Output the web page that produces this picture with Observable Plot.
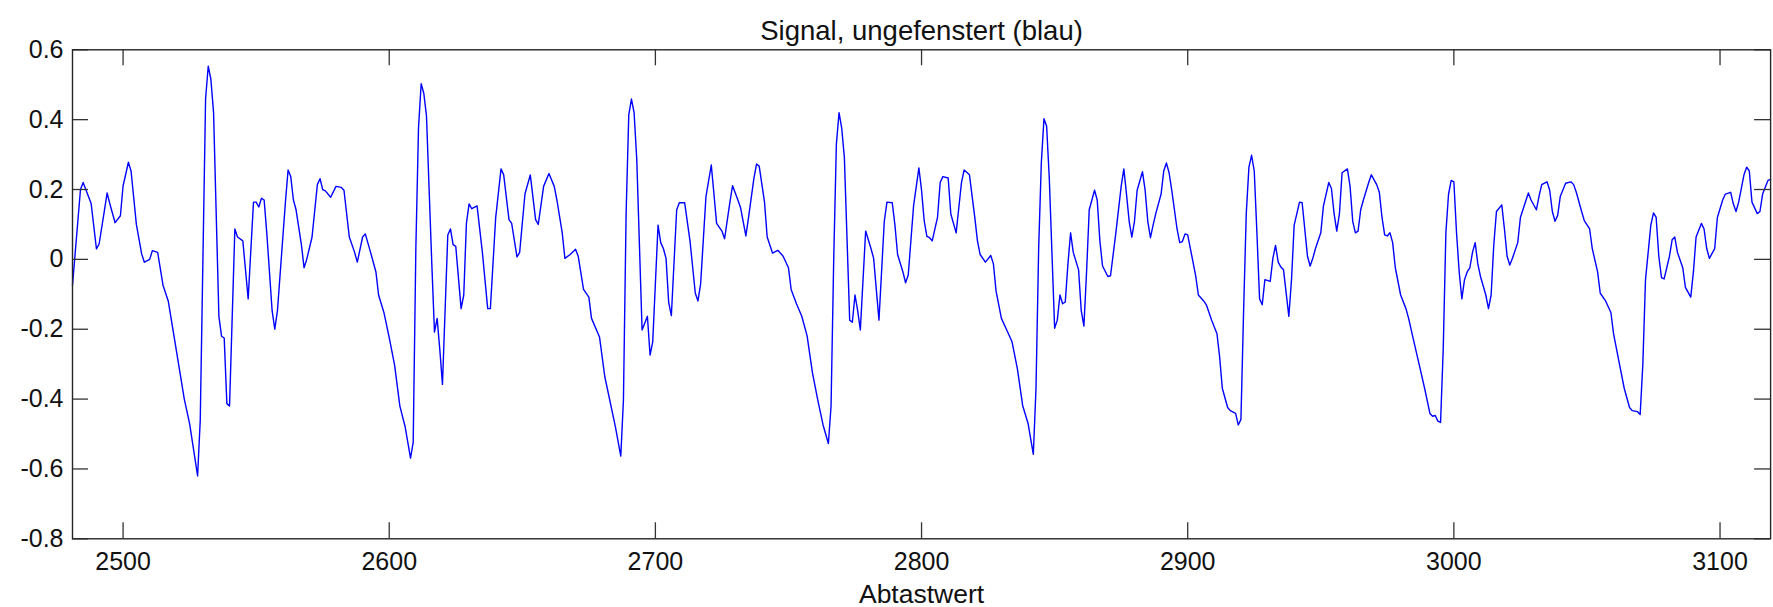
<!DOCTYPE html>
<html>
<head>
<meta charset="utf-8">
<script src="https://cdn.jsdelivr.net/npm/d3@7"></script>
<script src="https://cdn.jsdelivr.net/npm/@observablehq/plot@0.6"></script>
<style>
  html, body { margin: 0; padding: 0; background: #fff; overflow: hidden; }
</style>
</head>
<body>
<div id="chart"></div>
<script>
const titleText = "Signal, ungefenstert (blau)";
const xLabel = "Abtastwert";
const xTicks = [2500, 2600, 2700, 2800, 2900, 3000, 3100];
const yTicks = [-0.8, -0.6, -0.4, -0.2, 0, 0.2, 0.4, 0.6];

const sampleIndex = [
2481,2484,2485,2488,2490,2491,2493,2494,2495,2497,2499,2500,2502,2503,2505,2507,2508,2510,2511,2513,
2515,2517,2520,2523,2525,2528,2529,2531,2532,2533,2534,2536,2537,2538,2539,2540,2542,2543,2545,2547,
2549,2550,2551,2552,2553,2554,2556,2557,2558,2561,2562,2563,2564,2565,2567,2568,2569,2571,2573,2574,
2575,2576,2578,2580,2582,2583,2585,2587,2588,2590,2591,2593,2595,2596,2598,2600,2602,2604,2606,2608,
2609,2610,2611,2612,2613,2614,2616,2617,2618,2619,2620,2622,2623,2624,2625,2627,2628,2629,2630,2631,
2633,2635,2637,2638,2640,2642,2643,2645,2646,2648,2649,2651,2653,2655,2656,2658,2660,2662,2663,2665,
2666,2668,2670,2671,2673,2675,2676,2679,2681,2685,2687,2688,2689,2690,2691,2692,2693,2695,2697,2698,
2699,2701,2702,2703,2704,2705,2706,2708,2709,2711,2713,2715,2716,2717,2719,2721,2722,2723,2725,2726,
2728,2729,2731,2732,2734,2735,2737,2738,2739,2741,2742,2744,2746,2748,2750,2751,2753,2755,2757,2759,
2761,2763,2765,2766,2767,2768,2769,2770,2771,2773,2774,2775,2776,2777,2779,2781,2782,2783,2784,2786,
2787,2789,2790,2791,2793,2794,2795,2797,2799,2800,2801,2802,2803,2804,2806,2807,2808,2810,2811,2813,
2815,2816,2818,2820,2821,2822,2824,2826,2827,2828,2830,2832,2834,2836,2838,2840,2842,2843,2844,2845,
2846,2847,2848,2850,2851,2852,2853,2854,2855,2856,2857,2859,2860,2861,2862,2863,2865,2866,2867,2868,
2870,2871,2873,2875,2876,2877,2878,2879,2880,2881,2883,2884,2885,2886,2887,2888,2890,2891,2892,2893,
2894,2896,2897,2898,2899,2900,2901,2903,2904,2906,2907,2909,2911,2912,2913,2915,2916,2918,2919,2920,
2921,2922,2923,2924,2925,2926,2927,2928,2929,2931,2932,2933,2934,2935,2936,2938,2939,2940,2942,2943,
2945,2946,2947,2948,2950,2951,2953,2954,2955,2956,2957,2958,2960,2961,2962,2963,2964,2965,2966,2968,
2969,2971,2972,2973,2974,2975,2976,2977,2978,2980,2982,2983,2985,2987,2989,2991,2992,2993,2994,2995,
2996,2997,2998,2999,3000,3001,3002,3003,3004,3005,3006,3007,3008,3009,3010,3012,3013,3014,3015,3016,
3018,3019,3020,3021,3022,3024,3025,3027,3028,3029,3031,3032,3033,3035,3036,3037,3038,3039,3040,3042,
3044,3045,3046,3048,3049,3051,3052,3054,3055,3057,3059,3060,3062,3064,3066,3067,3069,3070,3071,3072,
3074,3075,3076,3077,3078,3079,3081,3082,3083,3084,3086,3087,3089,3090,3091,3093,3094,3095,3096,3098,
3099,3101,3102,3104,3105,3106,3107,3109,3110,3111,3112,3114,3115,3116,3118,3119
];

const signal = [
-0.074,0.20,0.22,0.16,0.03,0.044,0.14,0.19,0.16,0.105,0.125,0.21,0.278,0.253,0.10,0.015,-0.008,0.0,0.025,0.02,
-0.074,-0.12,-0.26,-0.40,-0.47,-0.62,-0.46,0.46,0.553,0.515,0.42,-0.163,-0.22,-0.225,-0.413,-0.42,0.087,0.064,0.053,-0.113,
0.164,0.164,0.15,0.175,0.17,0.075,-0.147,-0.20,-0.147,0.164,0.256,0.237,0.17,0.142,0.042,-0.024,0.0,0.064,0.214,0.231,
0.20,0.196,0.178,0.209,0.206,0.198,0.064,0.02,-0.008,0.064,0.073,0.02,-0.036,-0.102,-0.152,-0.224,-0.302,-0.42,-0.48,-0.569,
-0.524,0.03,0.376,0.503,0.475,0.41,-0.013,-0.208,-0.169,-0.258,-0.358,0.07,0.087,0.042,0.037,-0.141,-0.102,0.103,0.159,0.145,
0.153,0.02,-0.141,-0.141,0.12,0.259,0.242,0.114,0.103,0.007,0.02,0.187,0.242,0.114,0.10,0.209,0.246,0.209,0.17,0.076,
0.003,0.014,0.029,0.009,-0.086,-0.108,-0.169,-0.222,-0.336,-0.48,-0.563,-0.402,0.131,0.414,0.459,0.42,0.287,-0.202,-0.163,-0.274,
-0.236,0.098,0.048,0.031,0.003,-0.124,-0.161,0.142,0.162,0.162,0.053,-0.097,-0.119,-0.07,0.18,0.27,0.187,0.103,0.081,0.059,
0.164,0.211,0.17,0.148,0.067,0.12,0.231,0.273,0.267,0.164,0.064,0.018,0.026,0.009,-0.024,-0.086,-0.127,-0.163,-0.219,-0.324,
-0.402,-0.474,-0.527,-0.42,0.0,0.33,0.42,0.376,0.292,-0.174,-0.18,-0.102,-0.147,-0.202,0.081,0.031,0.003,-0.086,-0.174,0.109,
0.164,0.162,0.098,0.014,-0.036,-0.067,-0.045,0.153,0.262,0.198,0.11,0.066,0.062,0.053,0.12,0.22,0.237,0.233,0.13,0.076,
0.22,0.256,0.242,0.12,0.053,0.014,-0.008,0.011,-0.013,-0.091,-0.169,-0.202,-0.236,-0.313,-0.419,-0.469,-0.558,-0.369,0.031,0.276,
0.403,0.381,0.231,-0.197,-0.174,-0.102,-0.127,-0.122,-0.013,0.076,0.02,-0.03,-0.147,-0.191,-0.036,0.142,0.198,0.17,0.053,-0.019,
-0.049,-0.047,0.076,0.209,0.259,0.187,0.109,0.064,0.109,0.198,0.251,0.198,0.109,0.062,0.098,0.131,0.187,0.253,0.276,0.248,
0.198,0.087,0.048,0.051,0.073,0.07,0.031,-0.047,-0.102,-0.119,-0.13,-0.174,-0.213,-0.28,-0.369,-0.424,-0.433,-0.441,-0.474,-0.458,
-0.147,0.131,0.264,0.298,0.253,0.076,-0.113,-0.13,-0.058,-0.063,0.003,0.04,-0.008,-0.022,-0.03,-0.163,-0.058,0.098,0.164,0.162,
0.009,-0.019,0.003,0.031,0.076,0.153,0.22,0.203,0.131,0.081,0.13,0.248,0.259,0.209,0.109,0.076,0.081,0.142,0.17,0.22,
0.242,0.214,0.192,0.12,0.07,0.067,0.076,0.048,-0.024,-0.102,-0.141,-0.169,-0.236,-0.302,-0.369,-0.441,-0.449,-0.447,-0.463,-0.467,
-0.258,0.076,0.187,0.226,0.222,0.076,-0.036,-0.113,-0.058,-0.036,-0.024,0.02,0.048,-0.013,-0.049,-0.102,-0.141,-0.102,0.042,0.137,
0.156,0.087,0.009,-0.016,0.003,0.048,0.12,0.167,0.19,0.17,0.142,0.181,0.214,0.222,0.198,0.137,0.109,0.126,0.181,0.218,
0.222,0.214,0.192,0.137,0.111,0.087,0.031,-0.036,-0.097,-0.119,-0.152,-0.213,-0.291,-0.369,-0.424,-0.433,-0.436,-0.444,-0.30,-0.058,
0.098,0.133,0.12,0.009,-0.052,-0.056,0.009,0.056,0.064,0.02,-0.024,-0.08,-0.108,-0.036,0.064,0.103,0.087,0.031,0.003,0.031,
0.12,0.17,0.187,0.192,0.159,0.137,0.164,0.242,0.264,0.253,0.164,0.131,0.137,0.187,0.226,0.229
];

const W = 1773, H = 607;
const mL = 72, mR = 2.9, mT = 49.3, mB = 68.7;
const innerW = W - mL - mR, innerH = H - mT - mB;
const tickLen = 16;

const data = sampleIndex.map((s, i) => ({s, v: signal[i]}));
const fmtY = d => (Math.abs(d) < 1e-9 ? "0" : d.toFixed(1));
const tickStyle = {stroke: "#333", strokeWidth: 1.3};

const chart = Plot.plot({
  width: W,
  height: H,
  marginLeft: mL,
  marginRight: mR,
  marginTop: mT,
  marginBottom: mB,
  style: {
    fontFamily: "'Liberation Sans', Arial, Helvetica, sans-serif",
    fontSize: "25px",
    color: "#111",
    background: "#fff",
    overflow: "visible"
  },
  x: {domain: [2481, 3119]},
  y: {domain: [-0.8, 0.6]},
  marks: [
    Plot.line(data, {x: "s", y: "v", stroke: "#0000ff", strokeWidth: 1.4}),
    Plot.tickX(xTicks, {x: d => d, insetTop: innerH - tickLen, ...tickStyle}),
    Plot.tickX(xTicks, {x: d => d, insetBottom: innerH - tickLen, ...tickStyle}),
    Plot.tickY(yTicks, {y: d => d, insetRight: innerW - tickLen, ...tickStyle}),
    Plot.tickY(yTicks, {y: d => d, insetLeft: innerW - tickLen, ...tickStyle}),
    Plot.frame({stroke: "#262626", strokeWidth: 1.4}),
    Plot.axisX(xTicks, {tickSize: 0, tickPadding: 13, tickFormat: d => String(d), label: null, fontSize: 25}),
    Plot.axisY(yTicks, {tickSize: 0, tickPadding: 9, tickFormat: fmtY, label: null, fontSize: 25}),
    Plot.text([titleText], {frameAnchor: "top", dy: -29, fontSize: 27.5, fill: "#111"}),
    Plot.text([xLabel], {frameAnchor: "bottom", lineAnchor: "bottom", dy: 64, fontSize: 26.5, fill: "#111"})
  ]
});

document.getElementById("chart").appendChild(chart);
</script>
</body>
</html>
